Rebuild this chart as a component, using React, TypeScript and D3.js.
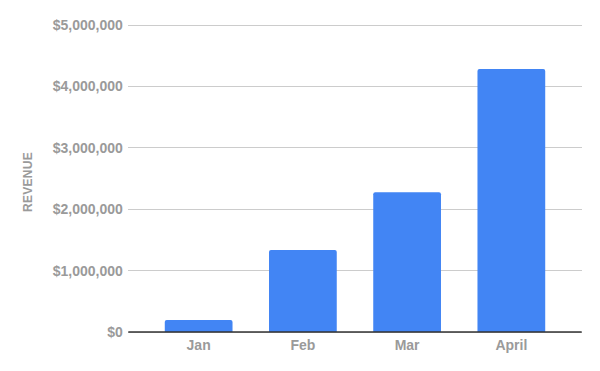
import * as d3 from 'd3'

const months = ['Jan', 'Feb', 'Mar', 'April']
const revenue = [195000, 1335000, 2275000, 4285000]
const yTicks = [0, 1000000, 2000000, 3000000, 4000000, 5000000]

const width = 600
const height = 371
const margin = { top: 25, right: 18.3, bottom: 39, left: 128.3 }

const fmt = d3.format('$,.0f')

// bar with only the top corners rounded
const barPath = (x: number, y: number, w: number, h: number, r: number) => {
  const rr = Math.min(r, h, w / 2)
  return `M${x},${y + h}V${y + rr}Q${x},${y} ${x + rr},${y}H${x + w - rr}Q${x + w},${y} ${x + w},${y + rr}V${y + h}Z`
}

export default function App() {
  const x = d3
    .scaleBand<string>()
    .domain(months)
    .range([margin.left, width - margin.right])
    .paddingInner(0.35)
    .paddingOuter(0.35)

  const y = d3
    .scaleLinear()
    .domain([0, 5000000])
    .range([height - margin.bottom, margin.top])

  const font = "'Liberation Sans', Arial, sans-serif"
  const grey = '#9a9a9a'

  return (
    <svg
      width={width}
      height={height}
      style={{ position: 'absolute', left: 0, top: 0, background: '#fff' }}
    >
      {/* gridlines */}
      {yTicks.map((t) => (
        <line
          key={t}
          x1={margin.left}
          x2={width - margin.right}
          y1={y(t)}
          y2={y(t)}
          stroke="#cccccc"
          strokeWidth={1}
          shapeRendering="crispEdges"
        />
      ))}

      {/* y tick labels */}
      {yTicks.map((t) => (
        <text
          key={'l' + t}
          x={margin.left - 5.5}
          y={y(t)}
          dy="0.35em"
          textAnchor="end"
          fontFamily={font}
          fontWeight="bold"
          fontSize={14}
          fill={grey}
        >
          {fmt(t)}
        </text>
      ))}

      {/* bars */}
      {months.map((m, i) => (
        <path
          key={m}
          d={barPath(
            x(m) as number,
            y(revenue[i]),
            x.bandwidth(),
            y(0) - y(revenue[i]),
            2
          )}
          fill="#4285f4"
        />
      ))}

      {/* baseline */}
      <line
        x1={margin.left}
        x2={width - margin.right}
        y1={y(0)}
        y2={y(0)}
        stroke="#333333"
        strokeWidth={1.3}
      />

      {/* x labels */}
      {months.map((m) => (
        <text
          key={'x' + m}
          x={(x(m) as number) + x.bandwidth() / 2}
          y={y(0) + 17.5}
          textAnchor="middle"
          fontFamily={font}
          fontWeight="bold"
          fontSize={14}
          fill={grey}
        >
          {m}
        </text>
      ))}

      {/* axis title */}
      <text
        transform={`translate(31.5,${182}) rotate(-90)`}
        textAnchor="middle"
        fontFamily={font}
        fontWeight="bold"
        fontSize={12}
        fill={grey}
        letterSpacing={0.3}
      >
        REVENUE
      </text>
    </svg>
  )
}
